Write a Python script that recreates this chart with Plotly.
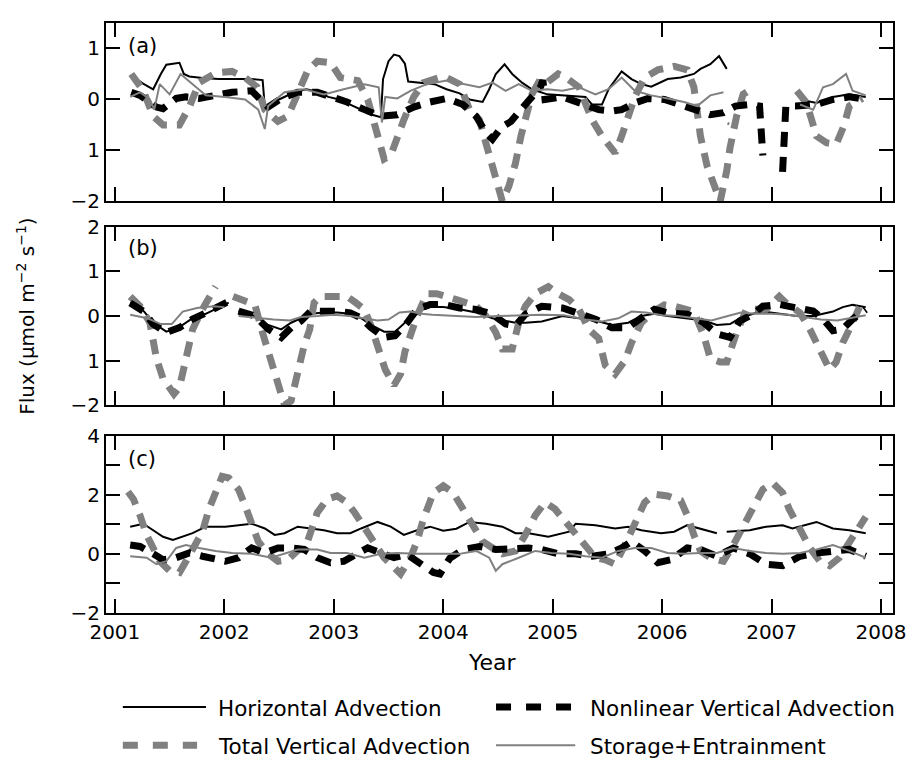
import plotly.graph_objects as go

# ---------------- data: panel (a) ----------------
t_ha_a = [2001.18, 2001.25, 2001.35, 2001.42, 2001.47, 2001.53, 2001.59, 2001.63, 2001.68, 2001.8, 2001.95,
          2002.1, 2002.25, 2002.35, 2002.37, 2002.45, 2002.55, 2002.65, 2002.75, 2002.85, 2002.95, 2003.05,
          2003.15, 2003.25, 2003.35, 2003.43, 2003.45, 2003.5, 2003.55, 2003.6, 2003.65, 2003.68, 2003.8,
          2003.92, 2004.03, 2004.15, 2004.24, 2004.36, 2004.42, 2004.48, 2004.56, 2004.63, 2004.72, 2004.81,
          2004.95, 2005.09, 2005.3, 2005.36, 2005.45, 2005.51, 2005.63, 2005.72, 2005.81, 2005.9, 2006.05,
          2006.17, 2006.29, 2006.35, 2006.44, 2006.52, 2006.56, 2006.59, 2006.7, 2007.26, 2007.41, 2007.56,
          2007.71, 2007.86]
v_ha_a = [0.43, 0.32, 0.2, 0.5, 0.68, 0.7, 0.72, 0.5, 0.45, 0.42, 0.4,
          0.4, 0.4, 0.38, -0.15, -0.05, 0.05, 0.15, 0.2, 0.15, 0.05, 0.0,
          -0.1, -0.2, -0.3, -0.35, 0.4, 0.75, 0.88, 0.85, 0.7, 0.35, 0.32,
          0.3, 0.2, 0.12, 0.0, -0.05, 0.2, 0.5, 0.69, 0.5, 0.33, 0.2,
          0.1, 0.08, 0.05, -0.1, -0.1, 0.2, 0.55, 0.4, 0.3, 0.25, 0.4,
          0.43, 0.5, 0.6, 0.69, 0.85, 0.69, 0.6, None, 0.0, -0.07, 0.05,
          0.1, 0.05]

t_nva_a = [2001.15, 2001.23, 2001.38, 2001.44, 2001.56, 2001.65, 2001.77, 2001.89, 2002.07, 2002.25, 2002.34,
           2002.4, 2002.52, 2002.67, 2002.85, 2003.0, 2003.12, 2003.28, 2003.43, 2003.58, 2003.73, 2003.88,
           2004.03, 2004.18, 2004.3, 2004.39, 2004.45, 2004.53, 2004.62, 2004.71, 2004.81, 2004.89, 2004.91,
           2004.93, 2005.09, 2005.27, 2005.42, 2005.54, 2005.63, 2005.75, 2005.87, 2006.02, 2006.17, 2006.32,
           2006.44, 2006.56, 2006.67, 2006.8, 2006.89, 2006.92, 2007.0, 2007.1, 2007.13, 2007.22, 2007.41,
           2007.56, 2007.71, 2007.86]
v_nva_a = [0.14, 0.08, -0.15, -0.18, 0.02, 0.05, 0.02, 0.08, 0.14, 0.17, 0.0,
           -0.15, 0.02, 0.14, 0.14, 0.05, -0.05, -0.2, -0.33, -0.3, -0.15, -0.05,
           0.02, -0.1, -0.33, -0.65, -0.78, -0.55, -0.43, -0.2, 0.05, 0.25, 0.38,
           0.0, 0.05, -0.1, -0.2, -0.23, -0.2, -0.07, 0.02, 0.0, -0.1, -0.23,
           -0.3, -0.26, -0.13, -0.1, -0.13, -1.1, None, -1.42, -0.13, -0.13, -0.1,
           0.0, 0.05, 0.0]

t_tva_a = [2001.15, 2001.26, 2001.35, 2001.44, 2001.59, 2001.68, 2001.77, 2001.92, 2002.07, 2002.19, 2002.3,
           2002.37, 2002.49, 2002.58, 2002.67, 2002.76, 2002.85, 2002.97, 2003.06, 2003.22, 2003.31, 2003.37,
           2003.41, 2003.46, 2003.52, 2003.58, 2003.64, 2003.73, 2003.82, 2003.97, 2004.03, 2004.15, 2004.24,
           2004.33, 2004.42, 2004.48, 2004.54, 2004.6, 2004.66, 2004.71, 2004.75, 2004.81, 2004.87, 2004.93,
           2005.05, 2005.14, 2005.24, 2005.36, 2005.45, 2005.57, 2005.63, 2005.69, 2005.75, 2005.84, 2005.96,
           2006.11, 2006.23, 2006.29, 2006.35, 2006.41, 2006.47, 2006.53, 2006.59, 2006.62, 2006.68, 2006.74,
           2006.79, 2007.0, 2007.23, 2007.32, 2007.41, 2007.5, 2007.59, 2007.66, 2007.71, 2007.83]
v_tva_a = [0.5, 0.17, -0.33, -0.5, -0.5, -0.15, 0.33, 0.52, 0.55, 0.43, 0.24,
           -0.2, -0.43, -0.33, 0.11, 0.56, 0.75, 0.72, 0.43, 0.37, 0.0, -0.45,
           -0.78, -1.17, -1.1, -0.72, -0.4, 0.05, 0.33, 0.43, 0.43, 0.3, -0.2,
           -0.4, -1.05, -1.5, -2.0, -1.7, -1.25, -0.72, -0.33, 0.1, 0.33, 0.3,
           0.5, 0.4, 0.24, -0.4, -0.72, -1.05, -0.72, -0.33, 0.05, 0.43, 0.58,
           0.65, 0.58, 0.24, -0.72, -1.3, -1.7, -2.0, -1.4, -0.95, -0.33, 0.1,
           0.17, None, 0.17, -0.07, -0.72, -0.85, -0.88, -0.52, -0.13, 0.02]

t_se_a = [2001.14, 2001.23, 2001.32, 2001.36, 2001.41, 2001.5, 2001.6, 2001.71, 2001.83, 2002.01, 2002.19,
          2002.31, 2002.37, 2002.4, 2002.55, 2002.73, 2002.91, 2003.09, 2003.28, 2003.41, 2003.44, 2003.47,
          2003.58, 2003.7, 2003.85, 2004.03, 2004.18, 2004.33, 2004.45, 2004.57, 2004.69, 2004.81, 2004.95,
          2005.09, 2005.24, 2005.39, 2005.51, 2005.63, 2005.75, 2005.9, 2006.05, 2006.2, 2006.32, 2006.44,
          2006.56, 2006.58, 2006.6, 2006.61, 2007.0, 2007.26, 2007.38, 2007.47, 2007.56, 2007.68, 2007.74,
          2007.86]
v_se_a = [0.05, 0.14, 0.0, -0.2, 0.3, 0.1, 0.5, 0.3, 0.08, 0.05, 0.0,
          -0.2, -0.58, -0.13, 0.14, 0.2, 0.1, 0.2, 0.3, 0.24, -0.45, 0.05,
          0.02, 0.17, 0.3, 0.37, 0.3, 0.24, 0.33, 0.17, 0.3, 0.17, 0.2,
          0.17, 0.24, 0.1, 0.2, 0.43, 0.17, 0.08, 0.02, -0.05, -0.13, 0.08,
          0.14, None, -0.5, -0.45, None, -0.1, -0.2, 0.24, 0.3, 0.5, 0.17,
          0.08]

# ---------------- data: panel (b) ----------------
t_ha_b = [2001.14, 2001.26, 2001.35, 2001.47, 2001.59, 2001.71, 2001.83, 2001.95, 2002.04, 2002.09, 2002.13,
          2002.28, 2002.4, 2002.52, 2002.61, 2002.7, 2002.79, 2002.91, 2003.03, 2003.15, 2003.25, 2003.34,
          2003.46, 2003.56, 2003.67, 2003.76, 2003.88, 2004.0, 2004.15, 2004.3, 2004.45, 2004.57, 2004.66,
          2004.75, 2004.9, 2005.09, 2005.24, 2005.39, 2005.54, 2005.69, 2005.81, 2005.93, 2006.05, 2006.23,
          2006.38, 2006.5, 2006.62, 2006.71, 2006.83, 2006.92, 2007.07, 2007.23, 2007.38, 2007.47, 2007.56,
          2007.65, 2007.74, 2007.86]
v_ha_b = [0.3, 0.12, -0.15, -0.35, -0.25, -0.05, 0.05, 0.2, 0.3, None, 0.12,
          0.0, -0.2, -0.3, -0.15, -0.05, 0.05, 0.08, 0.08, 0.05, -0.05, -0.2,
          -0.35, -0.35, -0.1, 0.1, 0.2, 0.2, 0.15, 0.08, -0.05, -0.1, -0.15,
          -0.15, -0.12, 0.0, -0.05, -0.1, -0.2, -0.15, 0.0, 0.05, 0.0, -0.05,
          -0.1, -0.2, -0.18, -0.05, 0.05, 0.1, 0.05, 0.0, 0.0, 0.05, 0.1,
          0.2, 0.25, 0.2]

t_nva_b = [2001.14, 2001.26, 2001.35, 2001.47, 2001.59, 2001.71, 2001.83, 2001.95, 2002.04, 2002.09, 2002.13,
           2002.28, 2002.4, 2002.52, 2002.61, 2002.7, 2002.79, 2002.91, 2003.03, 2003.15, 2003.25, 2003.34,
           2003.46, 2003.56, 2003.67, 2003.76, 2003.88, 2004.0, 2004.15, 2004.3, 2004.45, 2004.57, 2004.66,
           2004.75, 2004.9, 2005.09, 2005.24, 2005.39, 2005.54, 2005.69, 2005.81, 2005.93, 2006.05, 2006.23,
           2006.38, 2006.5, 2006.62, 2006.71, 2006.83, 2006.92, 2007.07, 2007.23, 2007.38, 2007.47, 2007.56,
           2007.65, 2007.74, 2007.86]
v_nva_b = [0.29, 0.11, -0.18, -0.37, -0.26, -0.07, 0.07, 0.22, 0.33, None, 0.11,
           0.0, -0.29, -0.48, -0.26, -0.11, 0.11, 0.11, 0.11, 0.07, -0.04, -0.26,
           -0.48, -0.44, -0.15, 0.15, 0.26, 0.26, 0.18, 0.15, 0.04, -0.18, -0.22,
           0.04, 0.22, 0.18, 0.07, -0.07, -0.26, -0.26, -0.04, 0.15, 0.07, 0.04,
           -0.15, -0.4, -0.48, -0.11, 0.04, 0.22, 0.26, 0.18, 0.11, -0.07, -0.33,
           -0.29, -0.07, 0.15]

t_tva_b = [2001.14, 2001.23, 2001.32, 2001.35, 2001.38, 2001.44, 2001.5, 2001.54, 2001.59, 2001.63, 2001.68,
           2001.71, 2001.8, 2001.86, 2001.92, 2002.0, 2002.08, 2002.19, 2002.28, 2002.34, 2002.4, 2002.46,
           2002.51, 2002.55, 2002.61, 2002.67, 2002.73, 2002.78, 2002.82, 2002.88, 2003.0, 2003.12, 2003.2,
           2003.28, 2003.34, 2003.4, 2003.47, 2003.55, 2003.61, 2003.65, 2003.7, 2003.76, 2003.85, 2003.94,
           2004.12, 2004.3, 2004.39, 2004.48, 2004.54, 2004.63, 2004.69, 2004.75, 2004.84, 2004.96, 2005.05,
           2005.15, 2005.24, 2005.33, 2005.42, 2005.48, 2005.57, 2005.66, 2005.72, 2005.81, 2005.9, 2006.02,
           2006.11, 2006.29, 2006.38, 2006.44, 2006.53, 2006.59, 2006.68, 2006.77, 2006.95, 2007.07, 2007.13,
           2007.26, 2007.35, 2007.44, 2007.53, 2007.59, 2007.65, 2007.71, 2007.77, 2007.84]
v_tva_b = [0.44, 0.22, -0.15, -0.5, -0.95, -1.4, -1.6, -1.75, -1.6, -1.1, -0.5,
           -0.3, 0.15, 0.44, 0.66, None, 0.44, 0.35, 0.25, -0.3, -0.8, -1.3,
           -1.75, -2.0, -1.9, -1.25, -0.65, -0.3, 0.3, 0.44, 0.44, 0.44, 0.3,
           0.15, -0.22, -0.66, -1.2, -1.55, -1.3, -0.8, -0.44, 0.0, 0.5, 0.5,
           0.37, 0.22, 0.0, -0.37, -0.74, -0.74, -0.15, 0.22, 0.5, 0.66, 0.5,
           0.37, 0.15, -0.3, -0.5, -1.1, -1.3, -1.0, -0.6, -0.15, 0.07, 0.25,
           0.22, 0.1, -0.44, -0.95, -1.03, -1.03, -0.37, 0.15, 0.15, 0.44, 0.3,
           0.07, -0.3, -0.74, -1.2, -1.03, -0.6, -0.3, 0.07, 0.4]

t_se_b = [2001.14, 2001.3, 2001.42, 2001.52, 2001.62, 2001.75, 2001.9, 2002.0, 2002.06, 2002.13, 2002.3,
          2002.45, 2002.6, 2002.7, 2002.85, 2003.0, 2003.15, 2003.28, 2003.4, 2003.5, 2003.6, 2003.7,
          2003.8, 2003.9, 2004.1, 2004.3, 2004.5, 2004.7, 2004.9, 2005.1, 2005.3, 2005.45, 2005.6,
          2005.72, 2005.85, 2006.0, 2006.15, 2006.3, 2006.45, 2006.6, 2006.72, 2006.85, 2007.0, 2007.15,
          2007.3, 2007.45, 2007.6, 2007.72, 2007.86]
v_se_b = [0.03, -0.05, -0.18, -0.18, 0.1, 0.18, 0.22, 0.2, None, 0.0, -0.05,
          -0.08, -0.1, -0.02, 0.0, 0.03, 0.0, -0.05, -0.1, -0.08, 0.08, 0.1,
          0.05, 0.03, 0.0, -0.02, 0.0, 0.02, 0.03, 0.02, -0.08, -0.12, -0.05,
          0.1, 0.08, 0.02, 0.0, -0.05, -0.1, 0.0, 0.08, 0.05, 0.05, 0.03,
          -0.03, -0.08, -0.1, -0.05, 0.02]

# ---------------- data: panel (c) ----------------
t_ha_c = [2001.14, 2001.26, 2001.35, 2001.44, 2001.53, 2001.62, 2001.71, 2001.83, 2002.01, 2002.13, 2002.25,
          2002.37, 2002.46, 2002.55, 2002.67, 2002.79, 2002.91, 2003.03, 2003.15, 2003.25, 2003.4, 2003.52,
          2003.64, 2003.76, 2003.88, 2004.0, 2004.12, 2004.24, 2004.39, 2004.54, 2004.66, 2004.78, 2004.96,
          2005.15, 2005.21, 2005.39, 2005.57, 2005.69, 2005.81, 2005.99, 2006.11, 2006.23, 2006.35, 2006.5,
          2006.55, 2006.59, 2006.8, 2006.95, 2007.1, 2007.19, 2007.41, 2007.56, 2007.71, 2007.86]
v_ha_c = [0.92, 1.02, 0.8, 0.58, 0.47, 0.58, 0.7, 0.92, 0.92, 0.97, 1.02,
          0.86, 0.64, 0.7, 0.92, 0.86, 0.8, 0.7, 0.7, 0.86, 1.08, 0.92,
          0.64, 0.8, 0.92, 0.78, 0.85, 1.08, 1.02, 0.92, 0.7, 0.7, 0.58,
          0.75, 1.02, 0.97, 0.86, 0.92, 0.8, 0.7, 0.75, 0.97, 0.86, 0.7,
          None, 0.75, 0.8, 0.92, 0.97, 0.86, 1.08, 0.86, 0.8, 0.7]

t_nva_c = [2001.14, 2001.23, 2001.35, 2001.44, 2001.56, 2001.68, 2001.8, 2001.92, 2002.01, 2002.13, 2002.25,
           2002.37, 2002.49, 2002.61, 2002.73, 2002.85, 2002.97, 2003.09, 2003.22, 2003.31, 2003.43, 2003.55,
           2003.67, 2003.79, 2003.91, 2003.97, 2004.06, 2004.18, 2004.33, 2004.48, 2004.63, 2004.78, 2004.9,
           2005.05, 2005.21, 2005.36, 2005.51, 2005.63, 2005.72, 2005.84, 2005.96, 2006.08, 2006.23, 2006.35,
           2006.5, 2006.65, 2006.8, 2006.95, 2007.1, 2007.26, 2007.41, 2007.56, 2007.71, 2007.86]
v_nva_c = [0.3, 0.25, 0.0, -0.2, -0.13, 0.03, -0.08, -0.2, -0.25, -0.13, 0.2,
           0.03, 0.2, 0.2, 0.15, -0.13, -0.3, -0.25, 0.03, 0.2, 0.03, -0.13,
           -0.02, -0.35, -0.63, -0.68, -0.15, 0.15, 0.25, 0.15, 0.2, 0.2, 0.15,
           0.0, 0.0, -0.08, 0.0, 0.2, 0.42, 0.1, -0.3, -0.2, 0.2, 0.15,
           -0.08, 0.2, 0.0, -0.35, -0.4, -0.08, 0.03, 0.1, 0.15, -0.08]

t_tva_c = [2001.12, 2001.17, 2001.23, 2001.29, 2001.35, 2001.41, 2001.5, 2001.59, 2001.65, 2001.74, 2001.8,
           2001.86, 2001.92, 2001.98, 2002.04, 2002.13, 2002.19, 2002.25, 2002.31, 2002.4, 2002.49, 2002.58,
           2002.67, 2002.76, 2002.85, 2002.94, 2003.03, 2003.12, 2003.19, 2003.28, 2003.37, 2003.46, 2003.55,
           2003.61, 2003.7, 2003.76, 2003.82, 2003.91, 2004.0, 2004.09, 2004.18, 2004.27, 2004.36, 2004.45,
           2004.54, 2004.66, 2004.75, 2004.84, 2004.93, 2005.02, 2005.12, 2005.21, 2005.3, 2005.39, 2005.48,
           2005.57, 2005.66, 2005.75, 2005.84, 2005.93, 2006.05, 2006.17, 2006.23, 2006.29, 2006.35, 2006.44,
           2006.56, 2006.65, 2006.74, 2006.83, 2006.92, 2007.01, 2007.1, 2007.16, 2007.26, 2007.35, 2007.44,
           2007.53, 2007.62, 2007.71, 2007.8, 2007.86]
v_tva_c = [2.1, 1.85, 1.3, 0.64, 0.2, -0.25, -0.57, -0.63, -0.25, 0.42, 0.75,
           1.52, 2.07, 2.62, 2.57, 2.18, 1.63, 0.97, 0.42, 0.0, -0.25, -0.2,
           0.1, 0.42, 1.4, 1.85, 1.96, 1.74, 1.4, 0.86, 0.3, -0.13, -0.46,
           -0.68, -0.13, 0.42, 1.19, 2.07, 2.3, 2.07, 1.52, 0.97, 0.42, 0.2,
           0.0, 0.1, 0.64, 1.3, 1.74, 1.52, 1.08, 0.64, 0.2, -0.13, -0.2,
           -0.35, 0.3, 1.08, 1.74, 2.02, 1.96, 1.8, 1.3, 0.64, 0.1, -0.13,
           -0.25, 0.3, 0.97, 1.63, 2.18, 2.4, 2.07, 1.52, 0.86, 0.2, -0.25,
           -0.4, -0.13, 0.42, 0.97, 1.25]

t_se_c = [2001.14, 2001.29, 2001.38, 2001.47, 2001.56, 2001.65, 2001.77, 2001.92, 2002.07, 2002.25, 2002.43,
          2002.55, 2002.67, 2002.85, 2002.97, 2003.12, 2003.28, 2003.43, 2003.58, 2003.76, 2003.88, 2004.0,
          2004.15, 2004.3, 2004.42, 2004.48, 2004.54, 2004.69, 2004.84, 2004.99, 2005.15, 2005.3, 2005.45,
          2005.6, 2005.75, 2005.9, 2006.05, 2006.2, 2006.35, 2006.5, 2006.65, 2006.8, 2006.95, 2007.1,
          2007.26, 2007.41, 2007.56, 2007.71, 2007.86]
v_se_c = [-0.08, -0.13, -0.35, -0.25, 0.2, 0.3, 0.2, 0.1, 0.03, 0.0, -0.13,
          0.0, 0.15, 0.15, 0.03, 0.03, -0.13, 0.0, 0.03, 0.0, 0.0, 0.0,
          0.0, 0.1, -0.13, -0.57, -0.35, -0.13, 0.1, 0.03, 0.0, -0.08, -0.13,
          0.1, 0.2, 0.2, 0.03, 0.0, 0.03, 0.03, 0.2, 0.1, 0.03, 0.0,
          0.03, 0.15, 0.3, 0.1, -0.13]

series_names = ["Horizontal Advection", "Total Vertical Advection",
                "Nonlinear Vertical Advection", "Storage+Entrainment"]
x_ticks = [2001, 2002, 2003, 2004, 2005, 2006, 2007, 2008]
x_ticktext = ["2001", "2002", "2003", "2004", "2005", "2006", "2007", "2008"]
ya_vals = [-2, -1, 0, 1]
ya_text = ["\u22122", "1", "0", "1"]
yb_vals = [-2, -1, 0, 1, 2]
yb_text = ["\u22122", "1", "0", "1", "2"]
yc_vals = [-2, 0, 2, 4]
yc_text = ["\u22122", "0", "2", "4"]
yc_minor = [-1, 1, 3]
panel_labels = ["(a)", "(b)", "(c)"]

# ---------------- styles ----------------
GRAY = "#808080"
DASH = "15px,10px"
styles = {
    "ha": dict(color="black", width=2, dash="solid"),
    "tva": dict(color=GRAY, width=7, dash=DASH),
    "nva": dict(color="black", width=7, dash=DASH),
    "se": dict(color=GRAY, width=2, dash="solid"),
}

panels = [
    dict(ha=(t_ha_a, v_ha_a), tva=(t_tva_a, v_tva_a), nva=(t_nva_a, v_nva_a), se=(t_se_a, v_se_a)),
    dict(ha=(t_ha_b, v_ha_b), tva=(t_tva_b, v_tva_b), nva=(t_nva_b, v_nva_b), se=(t_se_b, v_se_b)),
    dict(ha=(t_ha_c, v_ha_c), tva=(t_tva_c, v_tva_c), nva=(t_nva_c, v_nva_c), se=(t_se_c, v_se_c)),
]

fig = go.Figure()
for i, p in enumerate(panels):
    xa = "x" if i == 0 else f"x{i+1}"
    ya = "y" if i == 0 else f"y{i+1}"
    for key in ["ha", "tva", "nva", "se"]:
        t, v = p[key]
        fig.add_trace(go.Scatter(x=t, y=v, mode="lines", line=styles[key],
                                 xaxis=xa, yaxis=ya, showlegend=False,
                                 connectgaps=False, hoverinfo="skip"))

FONT = "DejaVu Sans"
W, H = 917, 759
ML, MR, MT, MB = 106, 16, 11, 146
pw = W - ML - MR
ph = H - MT - MB


def py(y):  # pixel y -> paper y
    return (H - MB - y) / ph


def px(x):  # pixel x -> paper x
    return (x - ML) / pw


domains = [(py(193), py(11)), (py(401), py(219)), (py(613), py(432))]
yranges = [[-2, 1.5], [-2, 2], [-2, 4]]
yticks = [(ya_vals, ya_text), (yb_vals, yb_text), (yc_vals, yc_text)]

axis_common = dict(showline=True, linewidth=2, linecolor="black", mirror="allticks",
                   ticks="inside", ticklen=14, tickwidth=2, tickcolor="black",
                   showgrid=False, zeroline=False,
                   tickfont=dict(family=FONT, size=20, color="black"))

layout = dict(width=W, height=H, margin=dict(l=ML, r=MR, t=MT, b=MB),
              plot_bgcolor="white", paper_bgcolor="white", showlegend=False,
              font=dict(family=FONT, color="black"))
for i in range(3):
    xk = "xaxis" if i == 0 else f"xaxis{i+1}"
    yk = "yaxis" if i == 0 else f"yaxis{i+1}"
    xa = dict(axis_common, range=[2000.919, 2008.109], tickvals=x_ticks, ticktext=x_ticktext,
              showticklabels=(i == 2), anchor=("y" if i == 0 else f"y{i+1}"), domain=[0, 1])
    yv, yt = yticks[i]
    ya = dict(axis_common, range=yranges[i], tickvals=yv, ticktext=yt, domain=list(domains[i]),
              anchor=("x" if i == 0 else f"x{i+1}"))
    if i == 2:
        ya["minor"] = dict(tickvals=yc_minor, ticks="inside", ticklen=14, tickwidth=2,
                           tickcolor="black", showgrid=False)
    layout[xk] = xa
    layout[yk] = ya
fig.update_layout(**layout)

annotations = []
for i, lab in enumerate(panel_labels):
    xr = "x domain" if i == 0 else f"x{i+1} domain"
    yr = "y domain" if i == 0 else f"y{i+1} domain"
    ycen = [34, 241, 456][i]
    top = [11, 219, 432][i]
    bot = [193, 401, 613][i]
    annotations.append(dict(text=lab, xref=xr, yref=yr, x=px(126), y=(bot - ycen) / (bot - top),
                            xanchor="left", yanchor="middle", showarrow=False,
                            font=dict(family=FONT, size=21, color="black")))

annotations.append(dict(text="Flux (\u03bcmol m<sup>\u22122</sup> s<sup>\u22121</sup>)",
                        xref="paper", yref="paper", x=px(25), y=py(310), textangle=-90,
                        xanchor="center", yanchor="middle", showarrow=False,
                        font=dict(family=FONT, size=20, color="black")))
annotations.append(dict(text="Year", xref="paper", yref="paper", x=px(496), y=py(664),
                        xanchor="center", yanchor="middle", showarrow=False,
                        font=dict(family=FONT, size=22, color="black")))

# legend (manual, below the plot)
leg_items = [
    (series_names[0], "ha", 123, 207, 217, 709),
    (series_names[1], "tva", 123, 198, 217, 748),
    (series_names[2], "nva", 500, 577, 593, 709),
    (series_names[3], "se", 500, 580, 593, 748),
]
shapes = []
for name, key, x0, x1, xt, yy in leg_items:
    st = dict(styles[key])
    if st["dash"] != "solid":
        st["dash"] = "15px,15px"
    shapes.append(dict(type="line", xref="paper", yref="paper", x0=px(x0), x1=px(x1),
                       y0=py(yy), y1=py(yy), line=st))
    annotations.append(dict(text=name, xref="paper", yref="paper", x=px(xt), y=py(yy + 1),
                            xanchor="left", yanchor="middle", showarrow=False,
                            font=dict(family=FONT, size=21.5, color="black")))

fig.update_layout(annotations=annotations, shapes=shapes)
fig.write_html("out.html")
